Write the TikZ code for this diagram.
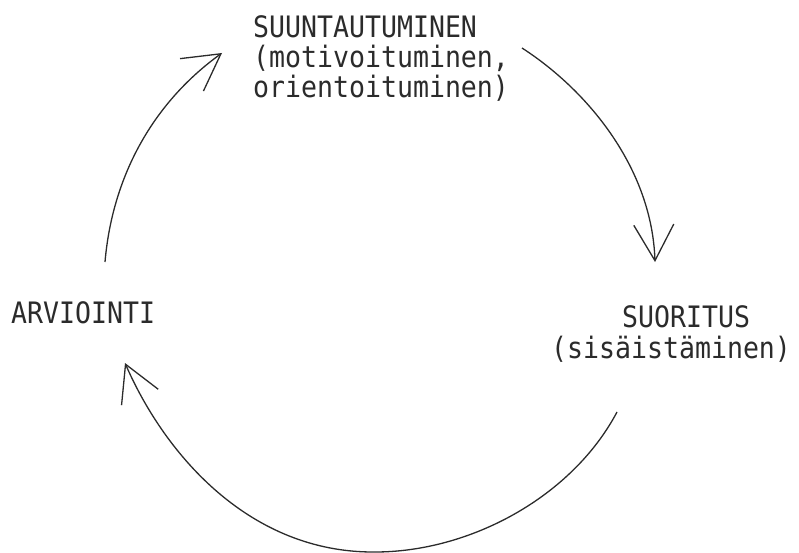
\documentclass[tikz,border=0pt]{standalone}
\usepackage{fontspec}
\newfontfamily\tw[FakeStretch=0.9]{DejaVu Sans Mono}
\usetikzlibrary{arrows.meta}
\definecolor{ink}{HTML}{2B2B2B}
\begin{document}
\begin{tikzpicture}[x=1pt,y=-1pt,
  lbl/.style={inner sep=0pt, font=\tw\fontsize{29.5}{30}\selectfont, text=ink, align=left},
  conn/.style={draw=ink, line width=1.3pt,
    -{Straight Barb[length=36pt,width=40pt,line width=1.3pt]}}]
\useasboundingbox (0,0) rectangle (799,553);
% labels (base = baseline of the last line)
\node[lbl, anchor=base west] (top) at (253,98)
  {SUUNTAUTUMINEN\\(motivoituminen,\\orientoituminen)};
\node[lbl, anchor=base west, font=\tw\fontsize{29.5}{31}\selectfont] (right) at (551,358)
  {\phantom{xxxx}\hspace{7pt}SUORITUS\\(sisäistäminen)};
\node[lbl, anchor=base west] (left) at (11,323) {ARVIOINTI};
% connector end points
\coordinate (a1s) at (522,48);
\coordinate (a1e) at (655,262);
\coordinate (a2s) at (617,412);
\coordinate (a2m) at (375,552);
\coordinate (a2e) at (125,363);
\coordinate (a3s) at (105,262);
\coordinate (a3e) at (222,53);
% connectors
\draw[conn] (a1s) .. controls (590,92) and (652,170) .. (a1e);
\draw[conn] (a2s) .. controls (572,497) and (470,552) .. (a2m)
                  .. controls (250,553) and (165,455) .. (a2e);
\draw[conn] (a3s) .. controls (112,180) and (150,105) .. (a3e);
\end{tikzpicture}
\end{document}
